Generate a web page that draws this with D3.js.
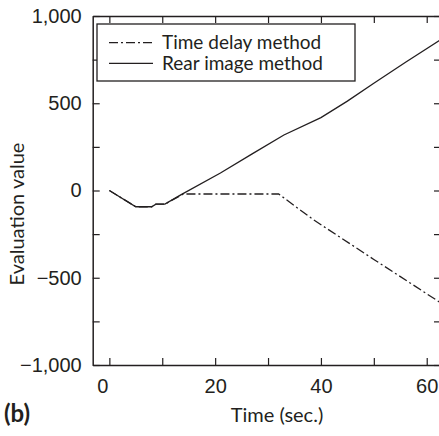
<!DOCTYPE html>
<html>
<head>
<meta charset="utf-8">
<script src="https://cdn.jsdelivr.net/npm/d3@7"></script>
<style>
	body { margin:0; background:#fff; }
	svg { display:block; font-family: Lato, "Open Sans", sans-serif; }
	text { fill:#231f20; }
</style>
</head>
<body>
<div id="chart"></div>
<script>

// data
const seriesNames = ["Time delay method", "Rear image method"];
const timeDelay = [[0,0],[5,-93],[8,-93],[8.8,-78],[10.5,-78],[14,-20],[32,-20],[38.6,-168],[50,-395],[62.7,-645]];
const rearImage = [[0,0],[5,-93],[8,-93],[8.8,-78],[10.5,-78],[13.5,-25],[21,100],[27,210],[33,318],[40,418],[45,512],[50,615],[56,735],[62.7,865]];
const xTicks = [0,10,20,30,40,50,60];
const xLabels = [0,20,40,60];
const yTicks = [-1000,-750,-500,-250,0,250,500,750,1000];
const yLabels = [-1000,-500,0,500,1000];

function graph(){

	const width = 439, height = 436;
	const ink = "#231f20";

	let svg = d3.select("#chart")
		.append("svg")
		.attr("width", width)
		.attr("height", height);

	let x = d3.scaleLinear().domain([-3.15, 62.7]).range([92.7, 441]);
	let y = d3.scaleLinear().domain([-1000, 1000]).range([365, 16]);

	let fmt = d3.format(",");

	//axes, ticks pointing inward on all four sides
	let bottom = svg.append("g")
		.attr("transform", "translate(0," + y(-1000) + ")")
		.call(d3.axisBottom(x).tickValues(xTicks).tickSizeInner(-7).tickSizeOuter(0)
			.tickFormat(d => xLabels.includes(d) ? fmt(d) : ""));
	let top = svg.append("g")
		.attr("transform", "translate(0," + y(1000) + ")")
		.call(d3.axisTop(x).tickValues(xTicks).tickSizeInner(-7).tickSizeOuter(0).tickFormat(""));
	let left = svg.append("g")
		.attr("transform", "translate(" + x.range()[0] + ",0)")
		.call(d3.axisLeft(y).tickValues(yTicks).tickSizeInner(-7).tickSizeOuter(0)
			.tickFormat(d => yLabels.includes(d) ? fmt(d) : ""));
	let right = svg.append("g")
		.attr("transform", "translate(" + x.range()[1] + ",0)")
		.call(d3.axisRight(y).tickValues(yTicks).tickSizeInner(-7).tickSizeOuter(0).tickFormat(""));

	[bottom, top, left, right].forEach(g => {
		g.select(".domain").attr("stroke", ink).attr("stroke-width", 1.5);
		g.selectAll(".tick line").attr("stroke", ink).attr("stroke-width", 1.2);
		g.selectAll(".tick text").attr("fill", ink).attr("font-size", 20);
	});
	bottom.selectAll(".tick text").attr("y", 14);
	bottom.selectAll(".tick text").filter(d => d === 0).attr("dx", -7);
	left.selectAll(".tick text").attr("x", -11);

	//lines
	let line = d3.line().x(d => x(d[0])).y(d => y(d[1]));

	svg.append("path")
		.datum(timeDelay)
		.attr("fill", "none")
		.attr("stroke", ink)
		.attr("stroke-width", 1.3)
		.attr("stroke-dasharray", "9,3,2,3")
		.attr("d", line);

	svg.append("path")
		.datum(rearImage)
		.attr("fill", "none")
		.attr("stroke", ink)
		.attr("stroke-width", 1.3)
		.attr("d", line);

	//legend
	let legend = svg.append("g");
	legend.append("rect")
		.attr("x", 97).attr("y", 24)
		.attr("width", 258).attr("height", 57)
		.attr("fill", "#fff")
		.attr("stroke", ink)
		.attr("stroke-width", 1.3);

	seriesNames.forEach((name, i) => {
		let ly = 42.7 + i * 20.6;
		legend.append("line")
			.attr("x1", 109).attr("x2", 153)
			.attr("y1", ly).attr("y2", ly)
			.attr("stroke", ink)
			.attr("stroke-width", 1.3)
			.attr("stroke-dasharray", i === 0 ? "9,3,2,3" : null);
		legend.append("text")
			.attr("x", 162)
			.attr("y", ly + 6.5)
			.attr("font-size", 19)
			.text(name);
	});

	//axis titles
	svg.append("text")
		.attr("x", 277)
		.attr("y", 422)
		.attr("text-anchor", "middle")
		.attr("font-size", 20)
		.text("Time (sec.)");

	svg.append("text")
		.attr("transform", "translate(24,214) rotate(-90)")
		.attr("text-anchor", "middle")
		.attr("font-size", 20)
		.text("Evaluation value");

	svg.append("text")
		.attr("x", 4)
		.attr("y", 422)
		.attr("font-size", 24)
		.attr("font-weight", "bold")
		.text("(b)");

} //function graph

graph();
</script>
</body>
</html>
